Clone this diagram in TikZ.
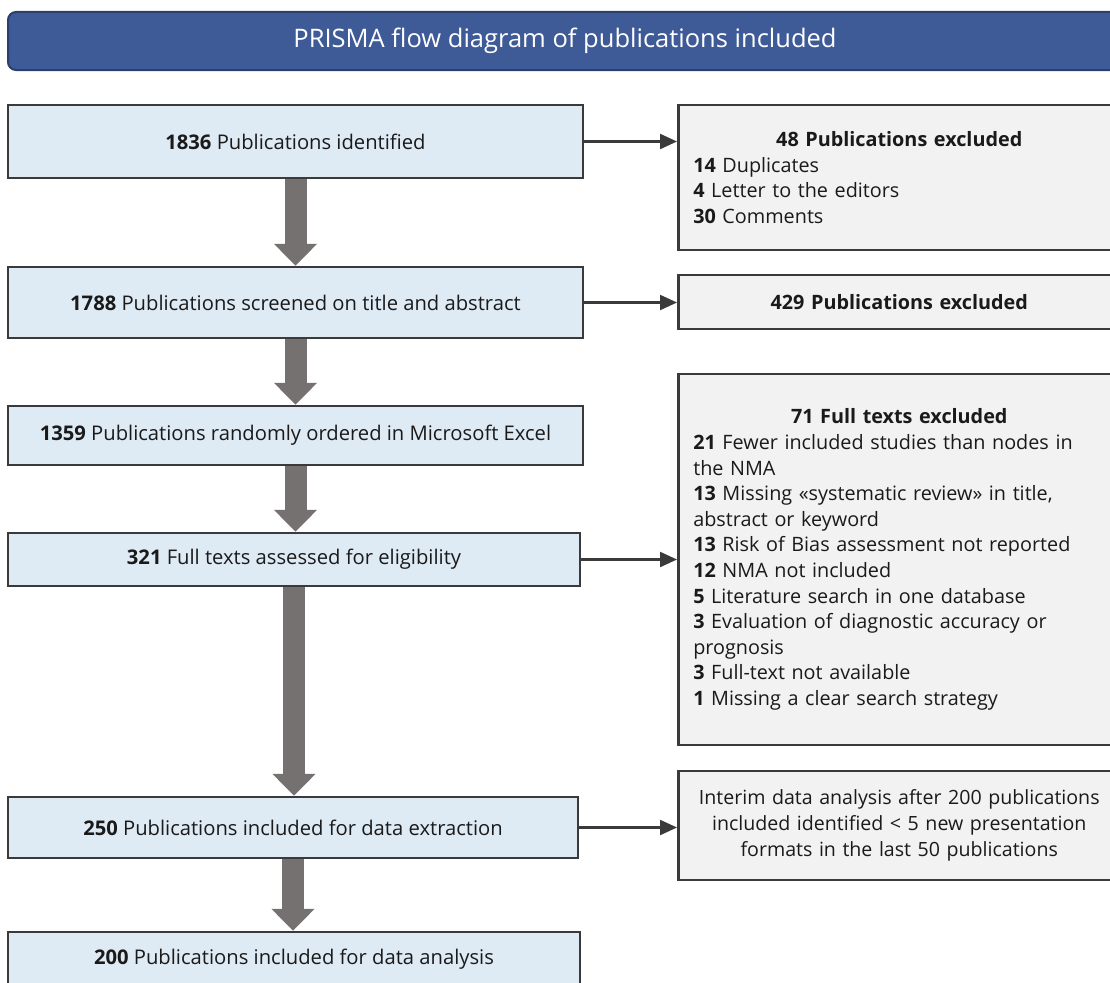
\documentclass[tikz,border=0pt]{standalone}
\usepackage{fontspec}
\setmainfont{Open Sans}
\usetikzlibrary{arrows.meta}
\definecolor{hdr}{HTML}{3E5B98}
\definecolor{hdrline}{HTML}{2B3F6B}
\definecolor{lbfill}{HTML}{DEEAF4}
\definecolor{rbfill}{HTML}{F2F2F2}
\definecolor{bord}{HTML}{3A3A3A}
\definecolor{garrow}{HTML}{767171}
\definecolor{txt}{HTML}{1A1A1A}
\begin{document}
\begin{tikzpicture}[x=1pt,y=-1pt,
  hdrbox/.style={draw=hdrline, line width=2pt, fill=hdr, rounded corners=8pt, inner sep=0pt,
    font=\fontsize{25.5}{30}\selectfont, text=white},
  lbox/.style={draw=bord, line width=2.5pt, fill=lbfill, minimum width=575pt, inner sep=0pt,
    font=\fontsize{20.2}{24}\selectfont, text=txt},
  rbox/.style={draw=bord, line width=2.5pt, fill=rbfill, anchor=west, inner xsep=15pt, inner ysep=0pt,
    text width=412pt, align=left, font=\fontsize{19.8}{25.6}\selectfont, text=txt},
  rboxc/.style={rbox, align=center, font=\fontsize{19.6}{26}\selectfont},
  bigarrow/.style={draw=garrow, line width=22pt, -{Triangle[width=42pt,length=22pt]}},
  thinarrow/.style={draw=bord, line width=2.2pt, -{Triangle[width=15pt,length=17pt]}}
]
\useasboundingbox (0,0) rectangle (1110,982);

\node[hdrbox, minimum width=1114pt, minimum height=58pt] (title) at (565,41)
  {PRISMA flow diagram of publications included};

\node[lbox, minimum height=73pt] (b1) at (295.5,141.5) {\textbf{1836} Publications identified};
\node[lbox, minimum height=71pt] (b2) at (295.5,302.5) {\textbf{1788} Publications screened on title and abstract};
\node[lbox, minimum height=59pt] (b3) at (295.5,435.5) {\textbf{1359} Publications randomly ordered in Microsoft Excel};
\node[lbox, minimum height=53pt, minimum width=572pt] (b4) at (294,559.5) {\textbf{321} Full texts assessed for eligibility};
\node[lbox, minimum height=61pt, minimum width=570pt] (b5) at (293,827.5) {\textbf{250} Publications included for data extraction};
\node[lbox, minimum height=54pt, minimum width=572pt] (b6) at (294,959) {\textbf{200} Publications included for data analysis};

\node[rbox, minimum height=145pt] (r1) at (677,177.5)
  {\makebox[\linewidth]{\bfseries 48 Publications excluded}\\
   \textbf{14} Duplicates\\
   \textbf{4} Letter to the editors\\
   \textbf{30} Comments};
\node[rbox, minimum height=54pt] (r2) at (677,302)
  {\makebox[\linewidth]{\bfseries 429 Publications excluded}};
\node[rbox, minimum height=371pt] (r3) at (677,559.5)
  {\makebox[\linewidth]{\bfseries 71 Full texts excluded}\\
   \textbf{21} Fewer included studies than nodes in\\
   the NMA\\
   \textbf{13} Missing «systematic review» in title,\\
   abstract or keyword\\
   \textbf{13} Risk of Bias assessment not reported\\
   \textbf{12} NMA not included\\
   \textbf{5} Literature search in one database\\
   \textbf{3} Evaluation of diagnostic accuracy or\\
   prognosis\\
   \textbf{3} Full-text not available\\
   \textbf{1} Missing a clear search strategy};
\node[rboxc, minimum height=109pt] (r4) at (677,825.5)
  {Interim data analysis after 200 publications\\
   included identified < 5 new presentation\\
   formats in the last 50 publications};

\draw[bigarrow] (b1.south) -- (b1.south |- b2.north);
\draw[bigarrow] (b2.south) -- (b2.south |- b3.north);
\draw[bigarrow] (b3.south) -- (b3.south |- b4.north);
\draw[bigarrow] (b4.south) -- (b4.south |- b5.north);
\draw[bigarrow] (b5.south) -- (b5.south |- b6.north);

\draw[thinarrow] (b1.east) -- (b1.east -| r1.west);
\draw[thinarrow] (b2.east) -- (b2.east -| r2.west);
\draw[thinarrow] (b4.east) -- (b4.east -| r3.west);
\draw[thinarrow] (b5.east) -- (b5.east -| r4.west);
\end{tikzpicture}
\end{document}
